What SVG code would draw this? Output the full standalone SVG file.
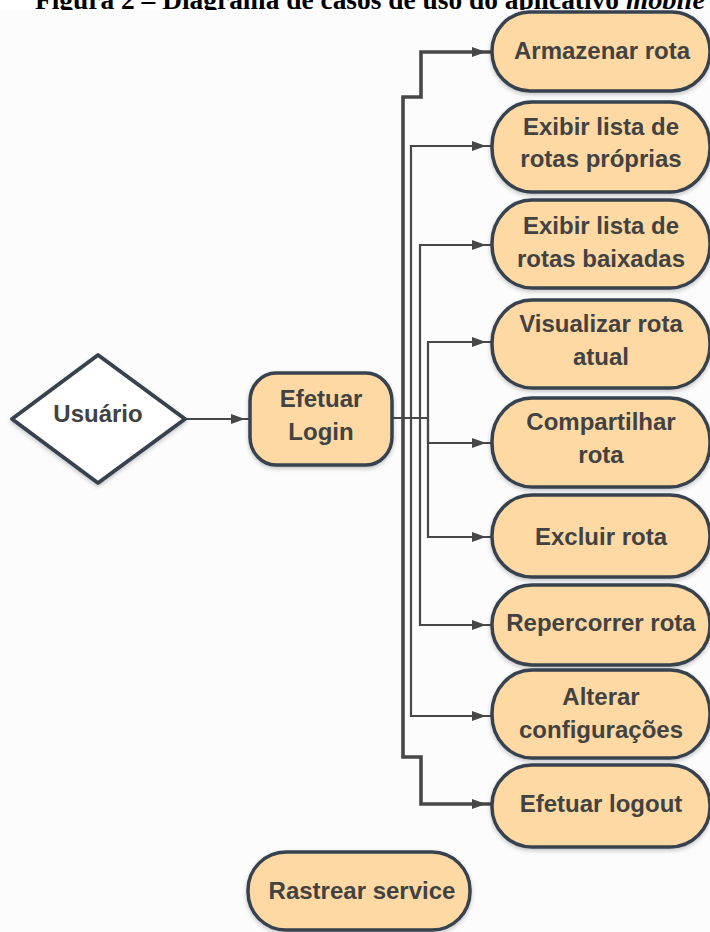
<svg xmlns="http://www.w3.org/2000/svg" width="710" height="932" viewBox="0 0 710 932">
<defs>
<style>
.nd{fill:#fed9a3;stroke:#37434f;stroke-width:3.5;filter:url(#sh)}
.tx{font-family:"Liberation Sans",Arial,sans-serif;font-weight:bold;font-size:24px;fill:#424242;text-anchor:middle}
.ln{fill:none;stroke:#474747;stroke-width:2.2}
.thk{stroke-width:3.6}
.ttl{font-family:"Liberation Serif","Times New Roman",serif;font-weight:bold;font-size:28px;fill:#000}
</style>
<filter id="sh" x="-10%" y="-10%" width="120%" height="130%">
<feDropShadow dx="0" dy="2" stdDeviation="2" flood-color="#000" flood-opacity="0.22"/>
</filter>
<marker id="ah" markerUnits="userSpaceOnUse" markerWidth="20" markerHeight="12" refX="19" refY="5" orient="auto">
<path d="M0,0 L14,5 L0,10 Z M13,4 H19 V6 H13 Z" fill="#474747"/>
</marker>
</defs>
<rect x="0" y="0" width="710" height="932" fill="#fff"/>
<g id="title">
<text class="ttl" x="35" y="9" textLength="584" lengthAdjust="spacingAndGlyphs">Figura 2 – Diagrama de casos de uso do aplicativo</text>
<text class="ttl" x="626" y="9" font-style="italic" textLength="79" lengthAdjust="spacingAndGlyphs">mobile</text>
</g>
<rect x="0" y="10" width="710" height="922" fill="#fcfcfc"/>

<g id="connectors">
<path class="ln" d="M185,419 H250" marker-end="url(#ah)"/>
<path class="ln" d="M392,418 H428"/>
<path class="ln thk" d="M403,418 V97 H421 V52 H491" marker-end="url(#ah)"/>
<path class="ln thk" d="M403,418 V757 H421 V804 H491" marker-end="url(#ah)"/>
<path class="ln" d="M411,418 V146 H491" marker-end="url(#ah)"/>
<path class="ln" d="M411,418 V716 H491" marker-end="url(#ah)"/>
<path class="ln" d="M420,418 V245 H491" marker-end="url(#ah)"/>
<path class="ln" d="M420,418 V625 H491" marker-end="url(#ah)"/>
<path class="ln" d="M428,418 V342 H491" marker-end="url(#ah)"/>
<path class="ln" d="M428,418 V443 H491" marker-end="url(#ah)"/>
<path class="ln" d="M428,418 V537 H491" marker-end="url(#ah)"/>
</g>

<g id="usuario">
<polygon points="98,355 185,419 98,483 12,419" fill="#fff" stroke="#37434f" stroke-width="4" stroke-linejoin="round" filter="url(#sh)"/>
<text class="tx" x="98" y="422" font-size="22">Usuário</text>
</g>

<g id="login">
<rect class="nd" x="250" y="373" width="142" height="92" rx="26" ry="28"/>
<text class="tx" x="321" y="407">Efetuar</text>
<text class="tx" x="321" y="440">Login</text>
</g>

<g id="armazenar">
<rect class="nd" x="492" y="12" width="218" height="79" rx="38" ry="39"/>
<text class="tx" x="602" y="59">Armazenar rota</text>
</g>

<g id="exibir-proprias">
<rect class="nd" x="492" y="102" width="218" height="90" rx="40" ry="44"/>
<text class="tx" x="601" y="135">Exibir lista de</text>
<text class="tx" x="601" y="167">rotas próprias</text>
</g>

<g id="exibir-baixadas">
<rect class="nd" x="492" y="200" width="218" height="88" rx="40" ry="43"/>
<text class="tx" x="601" y="234">Exibir lista de</text>
<text class="tx" x="601" y="267">rotas baixadas</text>
</g>

<g id="visualizar">
<rect class="nd" x="492" y="300" width="218" height="88" rx="40" ry="43"/>
<text class="tx" x="601" y="332">Visualizar rota</text>
<text class="tx" x="601" y="365">atual</text>
</g>

<g id="compartilhar">
<rect class="nd" x="492" y="398" width="218" height="89" rx="40" ry="43"/>
<text class="tx" x="601" y="430">Compartilhar</text>
<text class="tx" x="601" y="463">rota</text>
</g>

<g id="excluir">
<rect class="nd" x="492" y="495" width="218" height="82" rx="40" ry="40"/>
<text class="tx" x="601" y="545">Excluir rota</text>
</g>

<g id="repercorrer">
<rect class="nd" x="492" y="585" width="218" height="80" rx="40" ry="39"/>
<text class="tx" x="601" y="631">Repercorrer rota</text>
</g>

<g id="alterar">
<rect class="nd" x="492" y="670" width="218" height="88" rx="40" ry="43"/>
<text class="tx" x="601" y="705">Alterar</text>
<text class="tx" x="601" y="738">configurações</text>
</g>

<g id="logout">
<rect class="nd" x="492" y="765" width="218" height="82" rx="40" ry="40"/>
<text class="tx" x="601" y="812">Efetuar logout</text>
</g>

<g id="rastrear">
<rect class="nd" x="248" y="852" width="222" height="78" rx="38" ry="38"/>
<text class="tx" x="362" y="899">Rastrear service</text>
</g>
</svg>
